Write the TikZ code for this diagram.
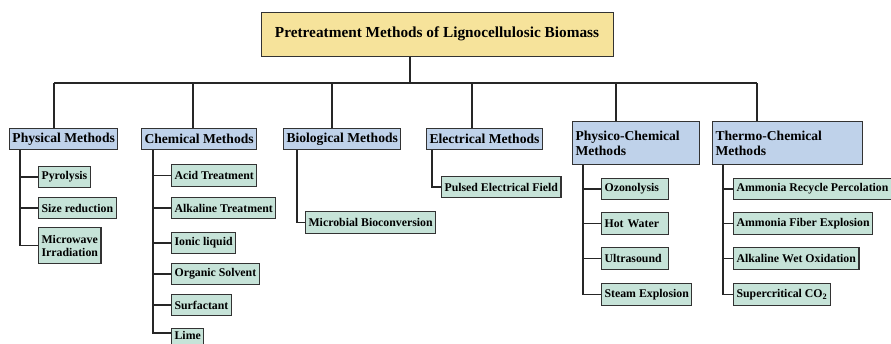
\documentclass[tikz,border=0pt]{standalone}
\usepackage{fontspec}
\setmainfont{Liberation Serif}
\usetikzlibrary{positioning}
\definecolor{titlefill}{HTML}{F6E39B}
\definecolor{catfill}{HTML}{BFD2EA}
\definecolor{leaffill}{HTML}{C6E3D8}
\definecolor{edgegray}{HTML}{333333}

\begin{document}
\begin{tikzpicture}[x=1pt,y=-1pt,
    titlebox/.style={draw=edgegray,line width=1pt,fill=titlefill,minimum width=352pt,minimum height=44pt,font=\fontsize{15.3}{17}\selectfont\bfseries},
    catbox/.style={draw=edgegray,line width=1pt,fill=catfill,anchor=north west,minimum height=21pt,inner xsep=3pt,align=left,font=\fontsize{13.6}{15}\selectfont\bfseries},
    leafbox/.style={draw=edgegray,line width=1.2pt,fill=leaffill,anchor=north west,minimum height=21pt,inner xsep=3pt,align=left,font=\fontsize{11.8}{13}\selectfont\bfseries},
    link/.style={line width=1.4pt,draw=black!85}]
        \useasboundingbox (0,0) rectangle (891,343);

        % Title
        \node[titlebox] (title) at (437,34) {Pretreatment Methods of Lignocellulosic Biomass};

        % Method groups
        \node[catbox] (phys) at (9,128) {Physical Methods};
        \node[catbox] (chem) at (141,128) {Chemical Methods};
        \node[catbox] (bio) at (283,128) {Biological Methods};
        \node[catbox] (elec) at (426,128) {Electrical Methods};
        \node[catbox,minimum height=43pt,text width=121pt] (pchem) at (572,121) {Physico-Chemical\\Methods};
        \node[catbox,minimum height=43pt,text width=144pt] (thermo) at (712,121) {Thermo-Chemical\\Methods};

        % Physical
        \node[leafbox] (pyro) at (38,166) {Pyrolysis};
        \node[leafbox] (size) at (38,197) {Size reduction};
        \node[leafbox,minimum height=36pt] (micro) at (38,227) {Microwave\\Irradiation};

        % Chemical
        \node[leafbox,minimum height=22pt] (acid) at (171,164) {Acid Treatment};
        \node[leafbox] (alk) at (171,197) {Alkaline Treatment};
        \node[leafbox] (ionic) at (171,232) {Ionic liquid};
        \node[leafbox] (orgs) at (171,263) {Organic Solvent};
        \node[leafbox] (surf) at (171,294) {Surfactant};
        \node[leafbox,minimum height=0pt,inner ysep=3pt,text depth=6pt] (lime) at (171,328) {Lime};

        % Biological and electrical
        \node[leafbox,minimum height=22pt] (microb) at (305,211) {Microbial Bioconversion};
        \node[leafbox] (pulsed) at (441,176) {Pulsed Electrical Field};

        % Physico-chemical
        \node[leafbox,text width=61pt] (ozone) at (601,178) {Ozonolysis};
        \node[leafbox,text width=61pt,minimum height=22pt] (hotw) at (601,212) {Hot Water};
        \node[leafbox,text width=61pt,minimum height=22pt] (ultra) at (601,247) {Ultrasound};
        \node[leafbox,minimum height=22pt] (steam) at (601,283) {Steam Explosion};

        % Thermo-chemical
        \node[leafbox] (arp) at (733,178) {Ammonia Recycle Percolation};
        \node[leafbox,minimum height=22pt] (afex) at (733,212) {Ammonia Fiber Explosion};
        \node[leafbox,minimum height=22pt] (awo) at (733,247) {Alkaline Wet Oxidation};
        \node[leafbox,minimum height=22pt] (sco) at (733,283) {Supercritical CO\textsubscript{2}};

        % Trunk and bar
        \coordinate (hub) at (410,83);
        \coordinate (b1) at (54,83);
        \coordinate (b2) at (193,83);
        \coordinate (b3) at (332,83);
        \coordinate (b4) at (472,83);
        \coordinate (b5) at (616,83);
        \coordinate (b6) at (757,83);
        \draw[link] (hub |- title.south) -- (hub);
        \draw[link] (b1) -- (b6);
        \draw[link] (b1) -- (b1 |- phys.north);
        \draw[link] (b2) -- (b2 |- chem.north);
        \draw[link] (b3) -- (b3 |- bio.north);
        \draw[link] (b4) -- (b4 |- elec.north);
        \draw[link] (b5) -- (b5 |- pchem.north);
        \draw[link] (b6) -- (b6 |- thermo.north);

        % Branches
        \foreach \leaf in {pyro,size,micro}
            \draw[link] ([xshift=11pt]phys.south west) |- (\leaf.west);
        \foreach \leaf in {acid,alk,ionic,orgs,surf}
            \draw[link] ([xshift=12pt]chem.south west) |- (\leaf.west);
        \draw[link] ([xshift=12pt]chem.south west) |- ([yshift=-5pt]lime.north west);
        \draw[link] ([xshift=14pt]bio.south west) |- (microb.west);
        \draw[link] ([xshift=6pt]elec.south west) |- (pulsed.west);
        \foreach \leaf in {ozone,hotw,ultra,steam}
            \draw[link] ([xshift=11pt]pchem.south west) |- (\leaf.west);
        \foreach \leaf in {arp,afex,awo,sco}
            \draw[link] ([xshift=11pt]thermo.south west) |- (\leaf.west);
    \end{tikzpicture}
\end{document}
